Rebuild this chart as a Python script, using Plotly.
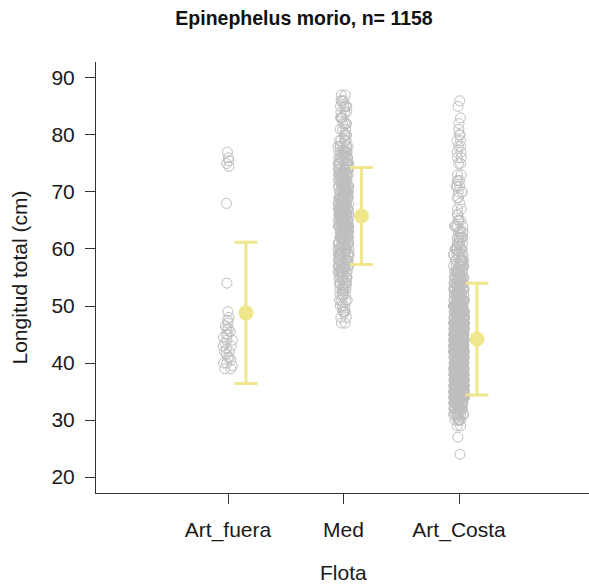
import plotly.graph_objects as go

# ---- data ----
categories = ["Art_fuera", "Med", "Art_Costa"]

art_fuera_lengths = [77, 76, 75.5, 75, 74.5, 68, 54, 49, 48, 47.5, 47, 46.5, 46, 46,
                     45.5, 45, 45, 44.5, 44, 44, 43.5, 43, 43, 42.5, 42, 42, 41.5,
                     41, 41, 40.5, 40, 40, 39.5, 39, 39]

med_values = [47, 48, 49, 50, 51, 52, 53, 54, 55, 56, 57, 58, 59, 60, 61, 62, 63, 64,
              65, 66, 67, 68, 69, 70, 71, 72, 73, 74, 75, 76, 77, 78, 79, 80, 81, 82,
              83, 84, 85, 86, 87]
med_counts = [2, 2, 4, 4, 4, 5, 6, 7, 8, 9, 10, 11, 12, 13, 14, 15, 16, 17,
              17, 17, 17, 17, 16, 16, 15, 14, 13, 12, 11, 9, 8, 7, 5, 4, 3, 4,
              4, 3, 4, 3, 2]

costa_values = [24, 27, 29, 30, 31, 32, 33, 34, 35, 36, 37, 38, 39, 40, 41, 42, 43,
                44, 45, 46, 47, 48, 49, 50, 51, 52, 53, 54, 55, 56, 57, 58, 59, 60,
                61, 62, 63, 64, 65, 66, 67, 68, 69, 70, 71, 72, 73, 75, 76, 77, 78,
                79, 80, 81, 82, 83, 85, 86]
costa_counts = [1, 1, 2, 6, 10, 14, 18, 22, 26, 30, 33, 31, 33, 35, 35, 35, 33,
                31, 34, 31, 28, 26, 24, 22, 20, 18, 16, 14, 12, 10, 9, 8, 7, 7,
                6, 6, 5, 5, 4, 2, 2, 1, 2, 3, 3, 3, 2, 2, 2, 2, 2,
                2, 2, 1, 1, 1, 1, 1]

group_means = [48.8, 65.8, 44.2]
group_sds = [12.4, 8.5, 9.8]

title_text = "Epinephelus morio, n= 1158"
x_title = "Flota"
y_title = "Longitud total (cm)"


def expand(values, counts):
    out = []
    for v, c in zip(values, counts):
        out.extend([v] * c)
    return out


groups = [art_fuera_lengths,
          expand(med_values, med_counts),
          expand(costa_values, costa_counts)]

positions = [1, 2, 3]
mean_offset = 0.155

POINT_GRAY = "#BEBEBE"
KHAKI = "#F0E68C"
AXIS = "#333333"
FONT = "Liberation Sans, Arial, sans-serif"

fig = go.Figure()

for pos, vals in zip(positions, groups):
    fig.add_trace(go.Box(
        x=[pos] * len(vals), y=vals,
        boxpoints="all", jitter=0.5, pointpos=0, width=0.19,
        fillcolor="rgba(0,0,0,0)", line=dict(width=0, color="rgba(0,0,0,0)"),
        marker=dict(symbol="circle-open", size=10, color=POINT_GRAY,
                    line=dict(width=1, color=POINT_GRAY)),
        showlegend=False, hoverinfo="y",
    ))

fig.add_trace(go.Scatter(
    x=[p + mean_offset for p in positions], y=group_means,
    mode="markers",
    marker=dict(size=15, color=KHAKI, line=dict(width=0)),
    error_y=dict(type="data", array=group_sds, visible=True,
                 color=KHAKI, thickness=3, width=11.5),
    showlegend=False,
))

fig.update_layout(
    width=589, height=584,
    margin=dict(l=96, r=0, t=62, b=91),
    paper_bgcolor="white", plot_bgcolor="white",
    font=dict(family=FONT, color="#1a1a1a", size=20),
    title=dict(text="<b>" + title_text + "</b>", x=0.422, xref="paper",
               xanchor="center", y=1 - 18 / 584, yref="container",
               yanchor="middle", font=dict(size=19.5, color="#111111")),
    xaxis=dict(range=[-0.143, 4.125], tickvals=positions, ticktext=categories,
               showgrid=False, zeroline=False, showline=True, linecolor=AXIS,
               linewidth=1, ticks="outside", ticklen=10, tickcolor=AXIS,
               ticklabelstandoff=8, tickfont=dict(size=21)),
    yaxis=dict(range=[17.2, 92.8], tickvals=[20, 30, 40, 50, 60, 70, 80, 90],
               showgrid=False, zeroline=False, showline=True, linecolor=AXIS,
               linewidth=1, ticks="outside", ticklen=10, tickcolor=AXIS,
               ticklabelstandoff=6, tickfont=dict(size=21)),
    annotations=[
        dict(text=x_title, xref="x", x=2, yref="paper", y=0, yshift=-79,
             xanchor="center", yanchor="middle", showarrow=False,
             font=dict(size=21)),
        dict(text=y_title, xref="paper", x=0, xshift=-77, yref="paper", y=0.5,
             xanchor="center", yanchor="middle", textangle=-90,
             showarrow=False, font=dict(size=21)),
    ],
)

fig.write_html("out.html")
